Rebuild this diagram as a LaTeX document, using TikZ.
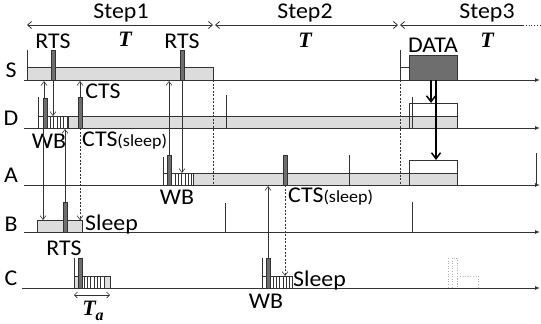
\documentclass[tikz,border=0pt]{standalone}
\usepackage{fontspec}
\setmainfont{Carlito}[FakeStretch=1.06]
\newfontfamily\tfont{Liberation Serif}
\usetikzlibrary{arrows.meta}
\definecolor{linec}{HTML}{333333}
\definecolor{bandc}{HTML}{DCDCDC}
\definecolor{barc}{HTML}{6E6E6E}
\tikzset{
  axis/.style={line width=1pt,draw=linec,-{Latex[length=5pt,width=4pt]}},
  band/.style={fill=bandc,draw=linec,line width=0.6pt},
  wbox/.style={fill=white,draw=linec,line width=0.6pt},
  bar/.style={fill=barc,draw=linec,line width=0.5pt},
  tick/.style={draw=linec,line width=0.6pt},
  sig/.style={draw=linec,line width=0.6pt,-{Straight Barb[length=4pt,width=6pt]}},
  dsig/.style={sig,dashed,dash pattern=on 2pt off 1.5pt},
  thick arr/.style={draw=black,line width=1.8pt,-{Straight Barb[length=6pt,width=9pt,line width=1.5pt]}},
  steparr/.style={draw=linec,line width=0.8pt},
  lab/.style={font=\fontsize{22.5}{22.5}\selectfont,inner sep=0pt},
  small/.style={font=\fontsize{17}{17}\selectfont},
  tlab/.style={font=\fontsize{22}{22}\selectfont\tfont\bfseries\itshape,inner sep=0pt},
  ghost/.style={draw=gray!60,line width=0.6pt,dotted}
}
\begin{document}
\begin{tikzpicture}[x=1pt,y=-1pt]
\useasboundingbox (0,0) rectangle (541,324);
% ---- Step arrows
\coordinate (st0) at (27,25); \coordinate (st1) at (213,25);
\coordinate (st1b) at (215,25); \coordinate (st2) at (398,25);
\coordinate (st2b) at (400,25); \coordinate (st3) at (523,25); \coordinate (st3e) at (541,25);
\draw[steparr,{Straight Barb[length=4pt,width=7pt]}-{Straight Barb[length=4pt,width=7pt]}] (st0) -- (st1);
\draw[steparr,{Straight Barb[length=4pt,width=7pt]}-{Straight Barb[length=4pt,width=7pt]}] (st1b) -- (st2);
\draw[steparr,{Straight Barb[length=4pt,width=7pt]}-] (st2b) -- (st3);
\draw[steparr,dotted] (st3) -- (st3e);
\node[lab] (step1) at (121,13) {Step1};
\node[lab] (step2) at (305,13) {Step2};
\node[lab] (step3) at (487,13) {Step3};
\node[tlab] (T1) at (125,39) {T};
\node[tlab] (T2) at (305,40) {T};
\node[tlab] (T3) at (487,40) {T};
% ---- row labels
\node[lab] (lS) at (11,70) {S};
\node[lab] (lD) at (11,118) {D};
\node[lab] (lA) at (11,175) {A};
\node[lab] (lB) at (11,224) {B};
\node[lab] (lC) at (11,278) {C};
% ---- S row
\draw[band] (27,67) rectangle (213,80);
\draw[tick] (27,50) -- (27,80);
\draw[bar] (51,50) rectangle (55,80);
\draw[bar] (180,50) rectangle (184,80);
\draw[wbox] (400,67) rectangle (409,80);
\draw[tick] (400,50) -- (400,80);
\draw[bar] (409,55) rectangle (457,80);
\coordinate (Ss) at (24,80); \coordinate (Se) at (540,80);
\draw[axis] (Ss) -- (Se);
\node[lab] (rts1) at (53,41) {RTS};
\node[lab] (rts2) at (182,41) {RTS};
\node[lab] (data) at (433,45) {DATA};
% ---- D row
\draw[band] (68,116) rectangle (457,128);
\draw[wbox] (38,116) rectangle (68,128);
\foreach \i in {50.3,53.6,...,67}{\draw[linec,line width=0.6pt] (\i,116) -- (\i,128);}
\draw[tick] (38,97) -- (38,128);
\draw[bar] (43,98) rectangle (47,128);
\draw[bar] (78,97) rectangle (82,128);
\draw[tick] (226,95) -- (226,128);
\draw[draw=linec,line width=0.6pt] (409,103) rectangle (457,128);
\draw[tick] (412,97) -- (412,128);
\coordinate (Ds) at (24,128); \coordinate (De) at (540,128);
\draw[axis] (Ds) -- (De);
\node[lab] (wbD) at (49,141) {WB};
\node[lab,anchor=west] (ctsD) at (82,141) {CTS{\fontsize{17}{17}\selectfont(sleep)}};
\node[lab] (ctsS) at (103,91) {CTS};
% ---- A row
\draw[band] (193,173) rectangle (457,185);
\draw[wbox] (163,173) rectangle (193,185);
\foreach \i in {175,178.3,...,192}{\draw[linec,line width=0.6pt] (\i,173) -- (\i,185);}
\draw[tick] (163,157) -- (163,185);
\draw[bar] (167,155) rectangle (171,185);
\draw[bar] (283,155) rectangle (287,185);
\draw[tick] (349,155) -- (349,185);
\draw[draw=linec,line width=0.6pt] (409,160) rectangle (457,185);
\draw[tick] (536,153) -- (536,185);
\coordinate (As) at (24,185); \coordinate (Ae) at (540,185);
\draw[axis] (As) -- (Ae);
\node[lab] (wbA) at (177,197) {WB};
\node[lab,anchor=west] (ctsA) at (288,197) {CTS{\fontsize{17}{17}\selectfont(sleep)}};
% ---- B row
\draw[band] (37,220) rectangle (82,232);
\draw[bar] (63,202) rectangle (67,232);
\draw[tick] (225,203) -- (225,232);
\draw[tick] (412,202) -- (412,232);
\coordinate (Bs) at (24,232); \coordinate (Be) at (540,232);
\draw[axis] (Bs) -- (Be);
\node[lab,anchor=west] (sleepB) at (85,224) {Sleep};
\node[lab] (rtsB) at (64,248) {RTS};
% ---- C row
\draw[band] (74,276) rectangle (110,288);
\draw[fill=white,draw=none] (82,276.5) rectangle (104,287.5);
\foreach \i in {84,87.3,...,104}{\draw[linec,line width=0.6pt] (\i,276) -- (\i,288);}
\draw[tick] (74,258) -- (74,288);
\draw[bar] (78,258) rectangle (82,288);
\draw[wbox] (262,276) rectangle (292,288);
\foreach \i in {273,276.3,...,292}{\draw[linec,line width=0.6pt] (\i,276) -- (\i,288);}
\draw[tick] (262,258) -- (262,288);
\draw[bar] (266,258) rectangle (270,288);
\draw[ghost] (448,258) -- (448,288);
\draw[ghost] (452,258) rectangle (457,288);
\draw[ghost] (457,276) rectangle (478,288);
\coordinate (Cs) at (22,288); \coordinate (Ce) at (540,288);
\draw[axis] (Cs) -- (Ce);
\node[lab,anchor=west] (sleepC) at (293,280) {Sleep};
\node[lab] (wbC) at (266,301) {WB};
\coordinate (ta0) at (74,295); \coordinate (ta1) at (110,295);
\draw[draw=linec,line width=0.6pt,{Straight Barb[length=3pt,width=6pt]}-{Straight Barb[length=3pt,width=6pt]}] (ta0) -- (ta1);
\node[tlab] (Ta) at (93,311) {T\raisebox{-0.25em}{\fontsize{16}{16}\selectfont a}};
% ---- signal connectors
\coordinate (d1) at (44,98); \coordinate (s1) at (44,81);
\draw[sig] (d1) -- (s1);
\coordinate (s2) at (53,80); \coordinate (d2) at (53,116);
\draw[sig] (s2) -- (d2);
\coordinate (d3) at (80,97); \coordinate (s3) at (80,81);
\draw[sig] (d3) -- (s3);
\coordinate (a4) at (169,155); \coordinate (s4) at (169,81);
\draw[sig] (a4) -- (s4);
\coordinate (s5) at (182,80); \coordinate (a5) at (182,173);
\draw[sig] (s5) -- (a5);
\coordinate (s6) at (213,80); \coordinate (a6) at (213,185);
\draw[tick,dashed,dash pattern=on 2pt off 1.5pt] (s6) -- (a6);
\coordinate (s7) at (400,80); \coordinate (a7) at (400,185);
\draw[tick,dashed,dash pattern=on 2pt off 1.5pt] (s7) -- (a7);
\coordinate (d8) at (43,128); \coordinate (b8) at (43,220);
\draw[sig] (d8) -- (b8);
\coordinate (b9) at (65,202); \coordinate (d9) at (65,129);
\draw[sig] (b9) -- (d9);
\coordinate (d10) at (80,128); \coordinate (b10) at (80,220);
\draw[dsig] (d10) -- (b10);
\coordinate (c11) at (268,258); \coordinate (a11) at (268,186);
\draw[sig] (c11) -- (a11);
\coordinate (a12) at (285,185); \coordinate (c12) at (285,276);
\draw[dsig] (a12) -- (c12);
\coordinate (s13) at (431,80); \coordinate (d13) at (431,103);
\draw[thick arr] (s13) -- (d13);
\coordinate (s14) at (436,80); \coordinate (a14) at (436,160);
\draw[thick arr] (s14) -- (a14);
\end{tikzpicture}
\end{document}
